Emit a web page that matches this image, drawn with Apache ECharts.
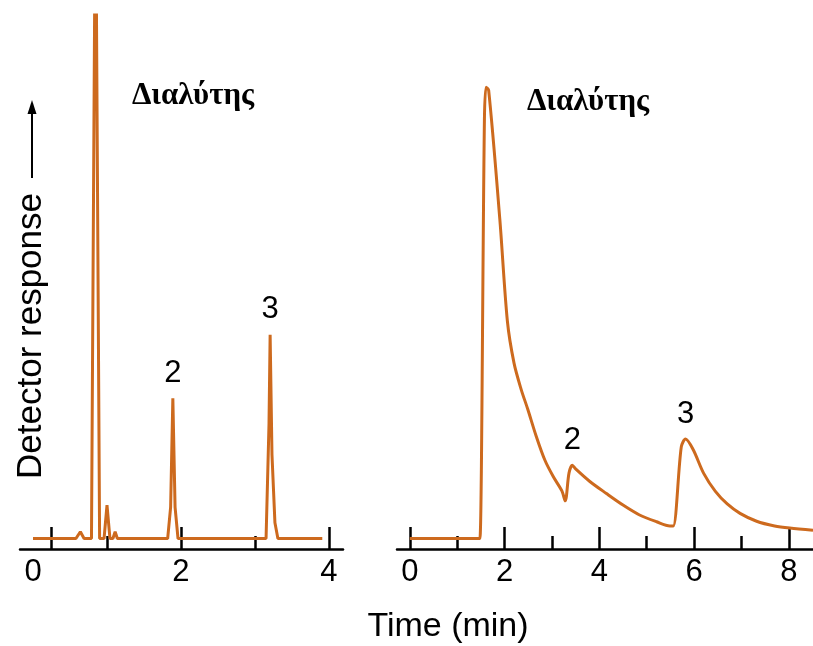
<!DOCTYPE html>
<html>
<head>
<meta charset="utf-8">
<script src="https://cdn.jsdelivr.net/npm/echarts@6/dist/echarts.min.js"></script>
<style>
  html, body { margin: 0; background: #fff; }
  #chart { width: 813px; height: 646px; }
</style>
</head>
<body>
<div id="chart"></div>
<script>
// fast column (left) - time in min, detector response in arbitrary units
const leftTime = [0, 0.58, 0.64, 0.69, 0.79, 0.845, 0.90, 0.96, 1.00, 1.04, 1.08, 1.11, 1.14,
  1.82, 1.86, 1.89, 1.92, 1.96, 3.15, 3.19, 3.205, 3.23, 3.27, 3.31, 3.91]
const leftResp = [0, 0, 1.3, 0, 0, 130, 0, 0, 6.4, 0, 0, 1.3, 0,
  0, 6, 26.8, 6, 0, 0, 22, 38.9, 16, 3, 0, 0]

// slow column (right)
const rightTime = [0, 1.45, 1.48, 1.575, 1.61, 1.665, 1.90, 2.06, 2.20, 2.35, 2.49, 2.67, 2.85, 3.03, 3.21, 3.28,
  3.36, 3.43, 3.50, 3.80, 4.15, 4.50, 4.85, 5.21, 5.49, 5.56, 5.73, 5.82, 5.98, 6.20, 6.45, 6.70, 6.97,
  7.32, 7.70, 8.02, 8.51]
const rightResp = [0, 0, 0, 80, 86.2, 85.6, 61.0, 41.5, 33.5, 28.5, 24.7, 19.5, 15.0, 11.8, 9.1, 7.2,
  12.5, 14.0, 13.3, 10.9, 8.6, 6.4, 4.5, 3.2, 2.4, 2.4, 17.5, 19.0, 17.0, 12.5, 9.0, 6.6, 4.8,
  3.3, 2.4, 2.0, 1.6]

// peak labels [time, response, text]
const leftPeaks = [[1.89, 26.8, '2'], [3.205, 38.9, '3']]
const rightPeaks = [[3.43, 14.0, '2'], [5.82, 19.0, '3']]

const leftMajorTicks = [0.25, 2, 4]
const leftMinorTicks = [1, 3]
const leftLabels = [0, 2, 4]
const rightMajorTicks = [0, 2, 4, 6, 8]
const rightMinorTicks = [1, 3, 5, 7]
const rightLabels = [0, 2, 4, 6, 8]

const solventText = 'Διαλύτης'
const yTitle = 'Detector response'
const xTitle = 'Time (min)'

const lineColor = '#CD6A1E'
const sansFont = '"Liberation Sans", Arial, sans-serif'
const serifBold = 'bold 31px "Liberation Serif", "Times New Roman", serif'

function tickAxis (grid, min, max, ticks, len, labels, withLine) {
  return {
    type: 'value',
    gridIndex: grid,
    min: min,
    max: max,
    position: 'bottom',
    axisLine: { show: withLine, onZero: false, lineStyle: { color: '#000', width: 2.5 } },
    axisTick: { show: true, inside: true, length: len, customValues: ticks, lineStyle: { color: '#000', width: 2.5 } },
    axisLabel: {
      show: !!labels,
      customValues: labels || [],
      color: '#000',
      fontFamily: sansFont,
      fontSize: 31,
      margin: 8
    },
    splitLine: { show: false }
  }
}

function peakMarks (peaks) {
  return {
    symbol: 'circle',
    symbolSize: 1,
    itemStyle: { color: 'rgba(0,0,0,0)' },
    label: {
      show: true,
      position: 'inside',
      offset: [0, -25],
      color: '#000',
      fontFamily: sansFont,
      fontSize: 31,
      formatter: p => p.name
    },
    data: peaks.map(p => ({ name: p[2], coord: [p[0], p[1]] }))
  }
}

const options = {
  animation: false,
  backgroundColor: '#fff',
  grid: [
    { left: 20, width: 323, top: 15, bottom: 97 },
    { left: 397, width: 416, top: 15, bottom: 97 }
  ],
  xAxis: [
    tickAxis(0, -0.176, 4.19, leftMajorTicks, 22, leftLabels, true),
    tickAxis(0, -0.176, 4.19, leftMinorTicks, 13, null, false),
    tickAxis(1, -0.27, 8.51, rightMajorTicks, 22, rightLabels, true),
    tickAxis(1, -0.27, 8.51, rightMinorTicks, 13, null, false)
  ],
  yAxis: [
    { type: 'value', gridIndex: 0, min: -2, max: 100, show: false },
    { type: 'value', gridIndex: 1, min: -2, max: 100, show: false }
  ],
  series: [
    {
      type: 'line',
      xAxisIndex: 0,
      yAxisIndex: 0,
      data: leftTime.map((t, i) => [t, leftResp[i]]),
      showSymbol: false,
      clip: true,
      lineStyle: { color: lineColor, width: 3 },
      markPoint: peakMarks(leftPeaks)
    },
    {
      type: 'line',
      xAxisIndex: 2,
      yAxisIndex: 1,
      data: rightTime.map((t, i) => [t, rightResp[i]]),
      showSymbol: false,
      smooth: 0.3,
      clip: true,
      lineStyle: { color: lineColor, width: 3 },
      markPoint: peakMarks(rightPeaks)
    }
  ],
  graphic: [
    {
      type: 'text', x: 193, y: 96,
      style: { text: solventText, font: serifBold, fill: '#000', align: 'center', verticalAlign: 'middle' }
    },
    {
      type: 'text', x: 588, y: 102,
      style: { text: solventText, font: serifBold, fill: '#000', align: 'center', verticalAlign: 'middle' }
    },
    {
      type: 'text', x: 448, y: 627,
      style: { text: xTitle, font: '34px ' + sansFont, fill: '#000', align: 'center', verticalAlign: 'middle' }
    },
    {
      type: 'text', x: 31, y: 336, rotation: Math.PI / 2,
      style: { text: yTitle, font: '35px ' + sansFont, fill: '#000', align: 'center', verticalAlign: 'middle' }
    },
    {
      type: 'line',
      shape: { x1: 32, y1: 178, x2: 32, y2: 110 },
      style: { stroke: '#000', lineWidth: 2 }
    },
    {
      type: 'polygon',
      shape: { points: [[32, 100], [27.5, 114], [36.5, 114]] },
      style: { fill: '#000' }
    }
  ]
}

const chart = echarts.init(document.getElementById('chart'))
chart.setOption(options)
</script>
</body>
</html>
